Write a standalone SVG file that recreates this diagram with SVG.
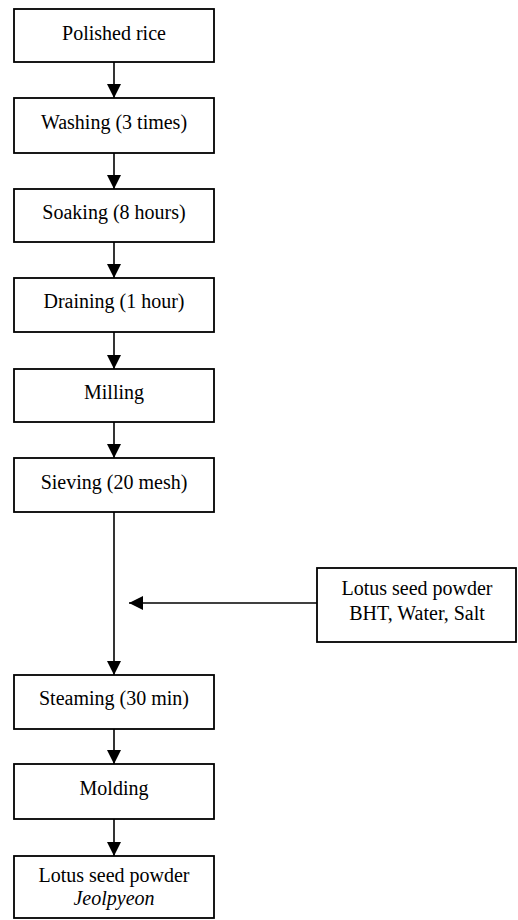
<svg xmlns="http://www.w3.org/2000/svg" width="518" height="920" viewBox="0 0 518 920">
<style>
.box{fill:#fff;stroke:#000;stroke-width:1.8}
.t{font-family:"Liberation Serif","Times New Roman",serif;font-size:20px;fill:#000;text-anchor:middle}
.c{stroke:#000;stroke-width:1.6;fill:none;marker-end:url(#ah)}
</style>
<defs>
<marker id="ah" markerUnits="userSpaceOnUse" markerWidth="14" markerHeight="14" viewBox="0 0 12 12" refX="12" refY="6" orient="auto">
<path d="M0,0 L12,6 L0,12 Z" fill="#000"/>
</marker>
</defs>
<rect width="518" height="920" fill="#fff"/>
<g id="connectors">
<line class="c" x1="114" y1="62" x2="114" y2="98"/>
<line class="c" x1="114" y1="153" x2="114" y2="189"/>
<line class="c" x1="114" y1="242" x2="114" y2="278"/>
<line class="c" x1="114" y1="332" x2="114" y2="369"/>
<line class="c" x1="114" y1="422" x2="114" y2="458"/>
<line class="c" x1="114" y1="512" x2="114" y2="675"/>
<line class="c" x1="317" y1="603" x2="129" y2="603"/>
<line class="c" x1="114" y1="729" x2="114" y2="764"/>
<line class="c" x1="114" y1="819" x2="114" y2="856"/>
</g>
<g id="n1"><rect class="box" x="14" y="9" width="200" height="53"/><text class="t" x="114" y="40">Polished rice</text></g>
<g id="n2"><rect class="box" x="14" y="98" width="200" height="55"/><text class="t" x="114" y="129">Washing (3 times)</text></g>
<g id="n3"><rect class="box" x="14" y="189" width="200" height="53"/><text class="t" x="114" y="219">Soaking (8 hours)</text></g>
<g id="n4"><rect class="box" x="14" y="278" width="200" height="54"/><text class="t" x="114" y="308">Draining (1 hour)</text></g>
<g id="n5"><rect class="box" x="14" y="369" width="200" height="53"/><text class="t" x="114" y="399">Milling</text></g>
<g id="n6"><rect class="box" x="14" y="458" width="200" height="54"/><text class="t" x="114" y="489">Sieving (20 mesh)</text></g>
<g id="n7"><rect class="box" x="317" y="568" width="199" height="74"/><text class="t" x="417" y="595">Lotus seed powder</text><text class="t" x="417" y="620">BHT, Water, Salt</text></g>
<g id="n8"><rect class="box" x="14" y="675" width="200" height="54"/><text class="t" x="114" y="705">Steaming (30 min)</text></g>
<g id="n9"><rect class="box" x="14" y="764" width="200" height="55"/><text class="t" x="114" y="795">Molding</text></g>
<g id="n10"><rect class="box" x="14" y="856" width="200" height="62"/><text class="t" x="114" y="882">Lotus seed powder</text><text class="t" x="114" y="905" font-style="italic">Jeolpyeon</text></g>
</svg>
